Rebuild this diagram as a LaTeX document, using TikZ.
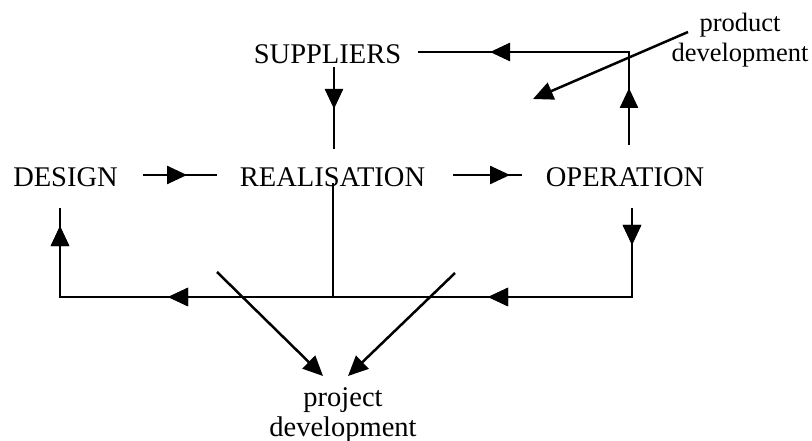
\documentclass[tikz,border=0pt]{standalone}
\usepackage{fontspec}
\setmainfont{Liberation Serif}
\usetikzlibrary{arrows.meta,decorations.markings}
\begin{document}
\begin{tikzpicture}[x=1pt,y=-1pt,
  lbl/.style={inner sep=0pt,font=\fontsize{28.5}{30}\selectfont},
  two/.style={lbl,align=center},
  ln/.style={line width=2.5pt},
  tip/.style={-{Triangle[length=20pt,width=18pt]}},
  mark at/.style={postaction={decorate},decoration={markings,
     mark=at position #1 with {\arrow{Triangle[length=20pt,width=18pt]}}}},
  mark two/.style 2 args={postaction={decorate},decoration={markings,
     mark=at position #1 with {\arrow{Triangle[length=20pt,width=18pt]}},
     mark=at position #2 with {\arrow{Triangle[length=20pt,width=18pt]}}}},
  mark three/.style n args={3}{postaction={decorate},decoration={markings,
     mark=at position #1 with {\arrow{Triangle[length=20pt,width=18pt]}},
     mark=at position #2 with {\arrow{Triangle[length=20pt,width=18pt]}},
     mark=at position #3 with {\arrow{Triangle[length=20pt,width=18pt]}}}}
]
\useasboundingbox (0,0) rectangle (812,441);

% texts
\node[lbl,anchor=base] (design) at (65.5,187) {DESIGN};
\node[lbl,anchor=base] (real) at (332.5,187) {REALISATION};
\node[lbl,anchor=base] (oper) at (625,187) {OPERATION};
\node[lbl,anchor=base] (supp) at (327.5,64) {SUPPLIERS};
\node[two,font=\fontsize{26.5}{30}\selectfont] (prod) at (740,40) {product\\development};
\node[two] (proj) at (343,415) {project\\development};

% junction coordinates
\coordinate (a1) at (143,175);
\coordinate (a2) at (217,175);
\coordinate (b1) at (453,175);
\coordinate (b2) at (522,175);
\coordinate (s1) at (334,67);
\coordinate (s2) at (334,149);
\coordinate (r1) at (629,145);
\coordinate (r2) at (629,52);
\coordinate (r3) at (418,52);
\coordinate (p1) at (688,32);
\coordinate (p2) at (533,99);
\coordinate (o1) at (632,208);
\coordinate (o2) at (632,297);
\coordinate (d2) at (60,297);
\coordinate (d1) at (60,208);
\coordinate (m1) at (333,183);
\coordinate (m2) at (333,297);
\coordinate (l1) at (217,272);
\coordinate (l2) at (323,376);
\coordinate (k1) at (455,273);
\coordinate (k2) at (348,376);

% connectors
\draw[ln,mark at=44pt] (a1) -- (a2);
\draw[ln,mark at=57pt] (b1) -- (b2);
\draw[ln,mark at=42pt] (s1) -- (s2);
\draw[ln,mark two={57pt}{232pt}] (r1) -- (r2) -- (r3);
\draw[ln,tip] (p1) -- (p2);
\draw[ln,mark three={37pt}{233pt}{553pt},mark at=732pt] (o1) -- (o2) -- (d2) -- (d1);
\draw[ln] (m1) -- (m2);
\draw[ln,tip] (l1) -- (l2);
\draw[ln,tip] (k1) -- (k2);
\end{tikzpicture}
\end{document}
